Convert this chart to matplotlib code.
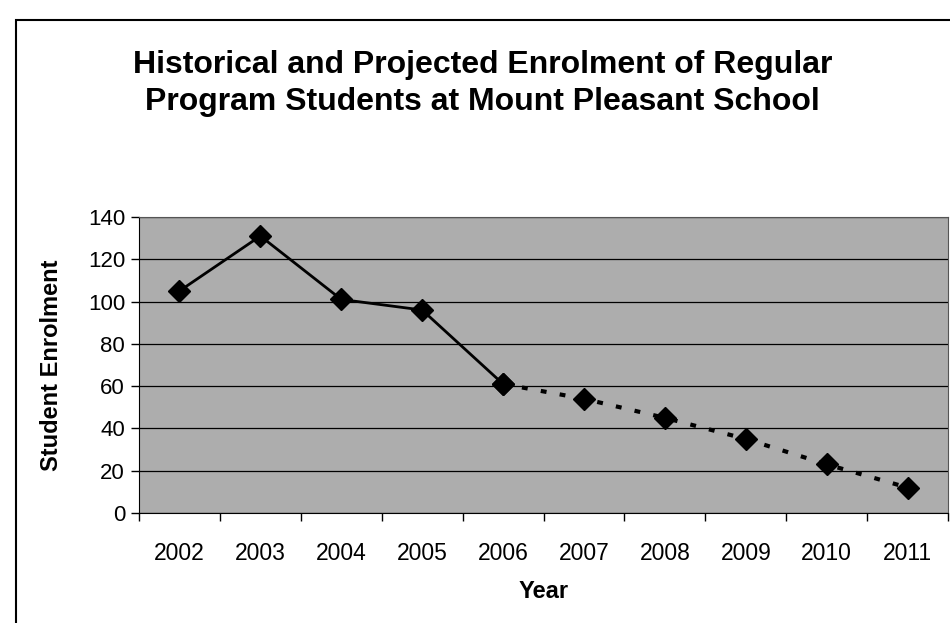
import numpy as np
import matplotlib
matplotlib.use('Agg')
import matplotlib.pyplot as plt
from matplotlib.patches import Rectangle

plt.rcParams['font.family'] = ['Liberation Sans', 'DejaVu Sans']

years = ['2002', '2003', '2004', '2005', '2006', '2007', '2008', '2009', '2010', '2011']
historical = [105, 131, 101, 96, 61]
projected = [61, 54, 45, 35, 23, 12]
hist_idx = np.arange(0, 5)
proj_idx = np.arange(4, 10)
y_ticks = [0, 20, 40, 60, 80, 100, 120, 140]

fig = plt.figure(figsize=(9.5, 6.23), dpi=100)
ax = fig.add_axes([0.1463, 0.1766, 0.8517, 0.4751])

ax.set_facecolor('#adadad')
ax.set_xlim(-0.5, len(years) - 0.5)
ax.set_ylim(0, 140)
ax.set_yticks(y_ticks)
ax.grid(axis='y', color='black', linewidth=0.9)
ax.set_axisbelow(True)

ax.plot(hist_idx, historical, color='black', linewidth=2, marker='D', markersize=11, zorder=3)
ax.plot(proj_idx, projected, color='black', linewidth=3, linestyle=(0, (1.4, 3.2)),
        marker='D', markersize=11, zorder=3)

ax.set_xticks(np.arange(len(years)))
ax.set_xticklabels(years, fontsize=16.5)
ax.set_xticks(np.arange(-0.5, len(years)), minor=True)
ax.tick_params(axis='x', which='major', length=0, pad=21)
ax.tick_params(axis='x', which='minor', length=6, direction='out', width=1)
ax.tick_params(axis='y', labelsize=16, length=6, direction='out', width=1, pad=4)

for side in ['top', 'right']:
    ax.spines[side].set_color('#555555')
for side in ['left', 'bottom']:
    ax.spines[side].set_color('black')

ax.set_xlabel('Year', fontsize=17, fontweight='bold', labelpad=11)
ax.set_ylabel('Student Enrolment', fontsize=17, fontweight='bold', labelpad=18)

fig.text(0.508, 0.866, 'Historical and Projected Enrolment of Regular\nProgram Students at Mount Pleasant School',
         ha='center', va='center', fontsize=23, fontweight='bold', linespacing=1.3)

# outer chart frame
fig.patches.append(Rectangle((16 / 950, -0.1), 1.0, 1.1 - 20 / 623, transform=fig.transFigure,
                             fill=False, edgecolor='black', linewidth=1.5))

fig.savefig('out.png', dpi=100)
